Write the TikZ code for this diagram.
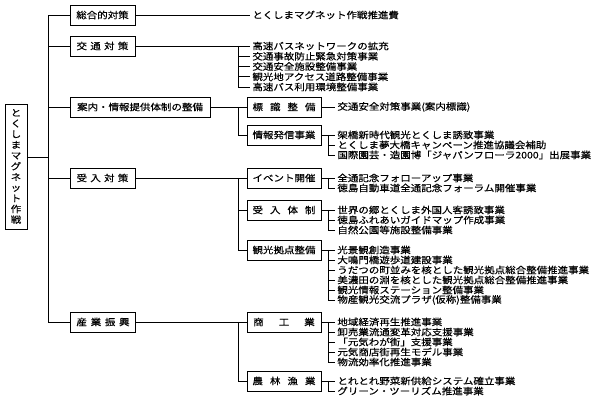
\documentclass[tikz,border=0pt]{standalone}
\usepackage{fontspec}
\newfontfamily\jp[FakeStretch=1.14,FakeBold=0.35]{Noto Sans CJK JP}
\begin{document}
\begin{tikzpicture}[x=1pt,y=-1pt, line width=0.8pt,
  jpf/.style={font=\jp\fontsize{9.2}{10.7}\selectfont},
  box/.style={draw, jpf, minimum height=20pt, inner sep=0pt},
  lbox/.style={box, minimum width=65pt},
  sbox/.style={box, minimum width=74pt},
  item/.style={jpf, anchor=west, inner xsep=2pt, inner ysep=0pt}]
\useasboundingbox (0,0) rectangle (600,403);

% root
\node[draw, jpf, minimum width=22pt, minimum height=125pt, inner sep=0pt, align=center] (root) at (16,166.5)
  {と\\く\\し\\ま\\マ\\グ\\ネ\\ッ\\ト\\作\\戦};
\coordinate (rj) at (48,157);
\coordinate (kx) at (238,0);
\coordinate (mx) at (328,0);

% level 1
\node[lbox] (g1) at (102.5,15) {総合的対策};
\node[lbox] (g2) at (102.5,46) {交\hspace{3.3pt}通\hspace{3.3pt}対\hspace{3.3pt}策};
\node[box, minimum width=140pt] (g3) at (140,107) {案内・情報提供体制の整備};
\node[lbox] (g4) at (102.5,178) {受\hspace{3.3pt}入\hspace{3.3pt}対\hspace{3.3pt}策};
\node[lbox] (g5) at (103,322) {産\hspace{3.7pt}業\hspace{3.7pt}振\hspace{3.7pt}興};

\draw (root.east |- rj) -- (rj);
\draw (g1.west) -- (g1.west -| rj) -- (g5.west -| rj) -- (g5.west);
\foreach \n in {g2,g3,g4} \draw (\n.west) -- (\n.west -| rj);

% 総合的対策
\node[item] (a1) at (250,15) {とくしまマグネット作戦推進費};
\draw (g1.east) -- (a1.west);

% 交通対策
\node[item] (b1) at (250,46) {高速バスネットワークの拡充};
\node[item] (b2) at (250,56.3) {交通事故防止緊急対策事業};
\node[item] (b3) at (250,66.5) {交通安全施設整備事業};
\node[item] (b4) at (250,76.8) {観光地アクセス道路整備事業};
\node[item] (b5) at (250,87) {高速バス利用環境整備事業};
\draw (g2.east) -- (b1.west);
\draw (b1.west -| kx) -- (b5.west -| kx) -- (b5.west);
\foreach \n in {b2,b3,b4} \draw (\n.west -| kx) -- (\n.west);

% level 2 boxes
\node[sbox] (s1) at (284,107) {標\hspace{7pt}識\hspace{7pt}整\hspace{7pt}備};
\node[sbox] (s2) at (284,135) {情報発信事業};
\node[sbox] (s3) at (284,178) {イベント開催};
\node[sbox] (s4) at (284,210) {受\hspace{7pt}入\hspace{7pt}体\hspace{7pt}制};
\node[sbox] (s5) at (284,250) {観光拠点整備};
\node[sbox] (s6) at (284,322) {商\hspace{15pt}工\hspace{15pt}業};
\node[sbox] (s7) at (284,381) {農\hspace{7pt}林\hspace{7pt}漁\hspace{7pt}業};

\draw (g3.east) -- (s1.west);
\draw (s1.west -| kx) -- (s2.west -| kx) -- (s2.west);
\draw (g4.east) -- (s3.west);
\draw (s3.west -| kx) -- (s5.west -| kx) -- (s5.west);
\draw (s4.west -| kx) -- (s4.west);
\draw (g5.east) -- (s6.west);
\draw (s6.west -| kx) -- (s7.west -| kx) -- (s7.west);

% 標識整備
\node[item] (c1) at (335,107) {交通安全対策事業(案内標識)};
\draw (s1.east) -- (c1.west);

% 情報発信事業
\node[item] (d1) at (335,135) {架橋新時代観光とくしま誘致事業};
\node[item] (d2) at (335,145) {とくしま夢大橋キャンペーン推進協議会補助};
\node[item] (d3) at (335,155) {国際園芸・造園博「ジャパンフローラ2000」出展事業};
\draw (s2.east) -- (d1.west);
\draw (d1.west -| mx) -- (d3.west -| mx) -- (d3.west);
\draw (d2.west -| mx) -- (d2.west);

% イベント開催
\node[item] (e1) at (335,178) {全通記念フォローアップ事業};
\node[item] (e2) at (335,188) {徳島自動車道全通記念フォーラム開催事業};
\draw (s3.east) -- (e1.west);
\draw (e1.west -| mx) -- (e2.west -| mx) -- (e2.west);

% 受入体制
\node[item] (f1) at (335,210) {世界の郷とくしま外国人客誘致事業};
\node[item] (f2) at (335,220) {徳島ふれあいガイドマップ作成事業};
\node[item] (f3) at (335,230) {自然公園等施設整備事業};
\draw (s4.east) -- (f1.west);
\draw (f1.west -| mx) -- (f3.west -| mx) -- (f3.west);
\draw (f2.west -| mx) -- (f2.west);

% 観光拠点整備
\node[item] (h1) at (335,250) {光景観創造事業};
\node[item] (h2) at (335,260) {大鳴門橋遊歩道建設事業};
\node[item] (h3) at (335,270) {うだつの町並みを核とした観光拠点総合整備推進事業};
\node[item] (h4) at (335,280) {美濃田の淵を核とした観光拠点総合整備推進事業};
\node[item] (h5) at (335,290) {観光情報ステーション整備事業};
\node[item] (h6) at (335,300) {物産観光交流プラザ(仮称)整備事業};
\draw (s5.east) -- (h1.west);
\draw (h1.west -| mx) -- (h6.west -| mx) -- (h6.west);
\foreach \n in {h2,h3,h4,h5} \draw (\n.west -| mx) -- (\n.west);

% 商工業
\node[item] (i1) at (335,322) {地域経済再生推進事業};
\node[item] (i2) at (335,332) {卸売業流通変革対応支援事業};
\node[item] (i3) at (335,342) {「元気わが街」支援事業};
\node[item] (i4) at (335,352) {元気商店街再生モデル事業};
\node[item] (i5) at (335,362) {物流効率化推進事業};
\draw (s6.east) -- (i1.west);
\draw (i1.west -| mx) -- (i5.west -| mx) -- (i5.west);
\foreach \n in {i2,i3,i4} \draw (\n.west -| mx) -- (\n.west);

% 農林漁業
\node[item] (j1) at (335,381) {とれとれ野菜新供給システム確立事業};
\node[item] (j2) at (335,391) {グリーン・ツーリズム推進事業};
\draw (s7.east) -- (j1.west);
\draw (j1.west -| mx) -- (j2.west -| mx) -- (j2.west);
\end{tikzpicture}
\end{document}
